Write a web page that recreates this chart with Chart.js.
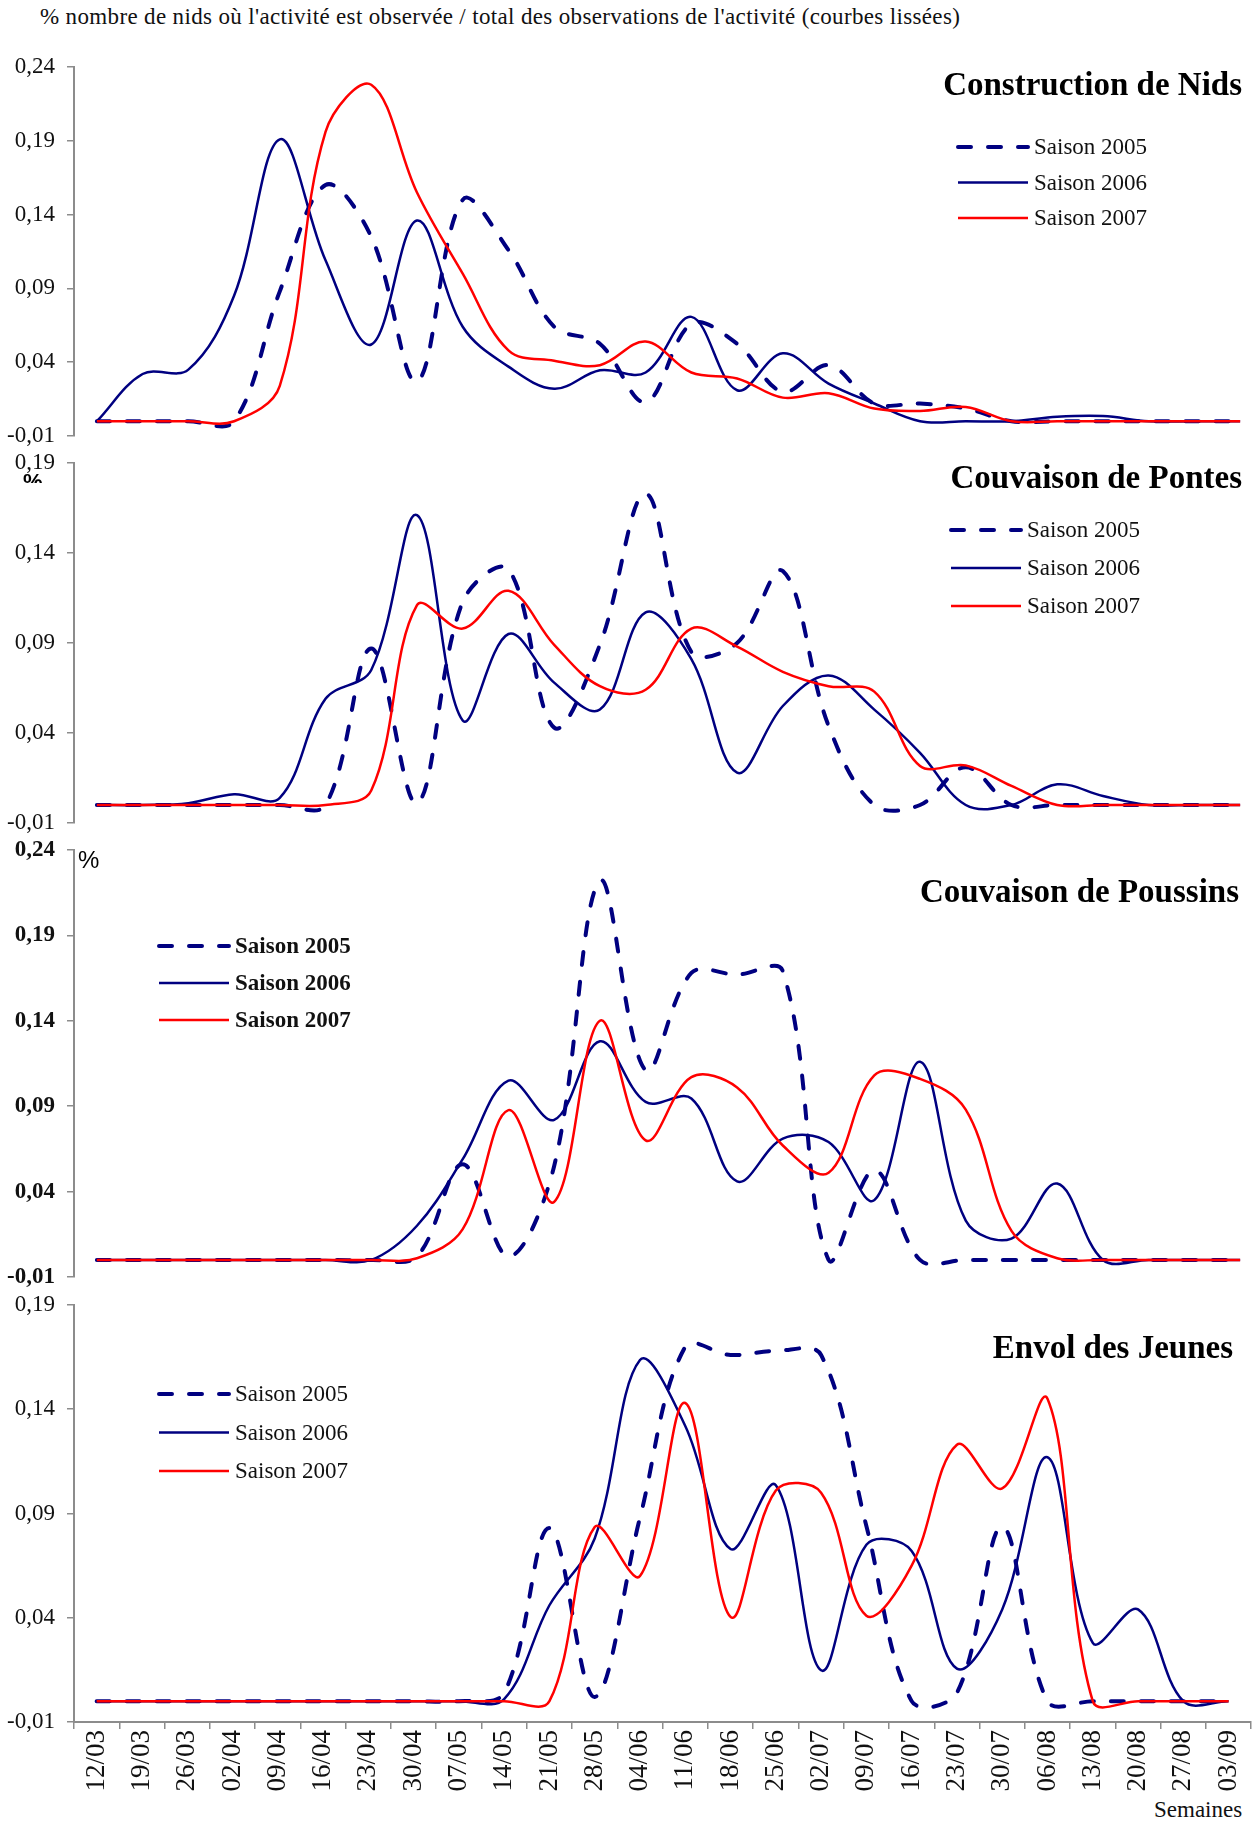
<!DOCTYPE html>
<html lang="fr">
<head>
<meta charset="utf-8">
<title>Activité observée dans les nids</title>
<script src="https://cdn.jsdelivr.net/npm/chart.js@4.4.1/dist/chart.umd.min.js"></script>
<style>
  html, body { margin: 0; padding: 0; background: #fff; overflow: hidden; }
  body { position: relative; width: 1257px; height: 1821px; font-family: "Liberation Serif", serif; color: #111; }
  canvas { position: absolute; left: 0; }
  #titre { position: absolute; left: 40px; top: 5px; font-size: 23px; line-height: 23px; letter-spacing: 0.35px; white-space: nowrap; }
  #semaines { position: absolute; left: 1154px; top: 1798px; font-size: 23px; line-height: 23px; white-space: nowrap; }
</style>
</head>
<body>
<div id="titre">% nombre de nids où l'activité est observée / total des observations de l'activité (courbes lissées)</div>
<div id="semaines">Semaines</div>
<script>
'use strict';

/*          DATA          */
// weeks on the x axis (one point per week)
const weeks = ['12/03', '19/03', '26/03', '02/04', '09/04', '16/04', '23/04', '30/04', '07/05',
  '14/05', '21/05', '28/05', '04/06', '11/06', '18/06', '25/06', '02/07', '09/07', '16/07',
  '23/07', '30/07', '06/08', '13/08', '20/08', '27/08', '03/09'];

const seasons = ['Saison 2005', 'Saison 2006', 'Saison 2007'];

// Construction de Nids
const nids2005 = [0, 0, 0, 0, 0.088, 0.160, 0.125, 0.027, 0.150, 0.116, 0.064, 0.0525, 0.013,
  0.066, 0.0525, 0.020, 0.038, 0.012, 0.012, 0.0086, 0, 0, 0, 0, 0, 0];
const nids2006 = [0, 0.032, 0.035, 0.085, 0.191, 0.109, 0.052, 0.136, 0.064, 0.037, 0.022, 0.0345, 0.033,
  0.0707, 0.021, 0.046, 0.0255, 0.012, 0, 0, 0, 0.003, 0.0035, 0, 0, 0];
const nids2007 = [0, 0, 0, 0, 0.024, 0.196, 0.228, 0.155, 0.100, 0.048, 0.041, 0.038, 0.054,
  0.033, 0.029, 0.016, 0.019, 0.0086, 0.007, 0.0097, 0, 0, 0, 0, 0, 0];

// Couvaison de Pontes
const pontes2005 = [0, 0, 0, 0, 0, 0, 0.087, 0.001, 0.113, 0.131, 0.043, 0.089, 0.173,
  0.085, 0.090, 0.130, 0.044, 0, 0, 0.021, 0, 0, 0, 0, 0, 0];
const pontes2006 = [0, 0, 0.001, 0.006, 0.004, 0.059, 0.075, 0.161, 0.047, 0.095, 0.068, 0.053, 0.107,
  0.081, 0.018, 0.055, 0.072, 0.053, 0.029, 0, 0, 0.0115, 0.005, 0, 0, 0];
const pontes2007 = [0, 0, 0, 0, 0, 0, 0.008, 0.111, 0.098, 0.119, 0.089, 0.066, 0.064,
  0.098, 0.088, 0.074, 0.066, 0.063, 0.0217, 0.022, 0.0106, 0, 0, 0, 0, 0];

// Couvaison de Poussins
const poussins2005 = [0, 0, 0, 0, 0, 0, 0, 0.002, 0.056, 0.002, 0.055, 0.222, 0.111,
  0.168, 0.167, 0.169, 0, 0.0525, 0, 0, 0, 0, 0, 0, 0, 0];
const poussins2006 = [0, 0, 0, 0, 0, 0, 0, 0.020, 0.059, 0.105, 0.082, 0.128, 0.0925,
  0.0945, 0.046, 0.071, 0.069, 0.035, 0.116, 0.023, 0.0125, 0.0447, 0, 0, 0, 0];
const poussins2007 = [0, 0, 0, 0, 0, 0, 0, 0.001, 0.018, 0.0877, 0.034, 0.140, 0.070,
  0.107, 0.101, 0.067, 0.051, 0.108, 0.106, 0.088, 0.017, 0.001, 0, 0, 0, 0];

// Envol des Jeunes
const envol2005 = [0, 0, 0, 0, 0, 0, 0, 0, 0, 0.004, 0.083, 0.002, 0.088,
  0.170, 0.166, 0.168, 0.166, 0.084, 0, 0.004, 0.0836, 0, 0, 0, 0, 0];
const envol2006 = [0, 0, 0, 0, 0, 0, 0, 0, 0, 0.001, 0.046, 0.078, 0.1636,
  0.132, 0.073, 0.1036, 0.0148, 0.075, 0.072, 0.0156, 0.044, 0.117, 0.028, 0.044, 0, 0];
const envol2007 = [0, 0, 0, 0, 0, 0, 0, 0, 0, 0, 0, 0.0835, 0.060,
  0.143, 0.0404, 0.101, 0.100, 0.041, 0.065, 0.123, 0.102, 0.145, 0, 0, 0, 0];

// y tick values (two different ranges)
const ticksHigh = [-0.01, 0.04, 0.09, 0.14, 0.19, 0.24];
const ticksLow = [-0.01, 0.04, 0.09, 0.14, 0.19];


/*          STYLES / LAYOUT          */
const navy = '#000080';
const red = '#ff0000';
const axisGrey = '#8c8c8c';
const serif = '"Liberation Serif", "Times New Roman", serif';
// room kept above / below each plot so the end tick labels fit
const edgePad = 28;

// line look for each season
const seasonStyles = [
  { borderColor: navy, borderWidth: 4, borderDash: [13, 17], borderCapStyle: 'round', order: 3 },
  { borderColor: navy, borderWidth: 2.5, order: 2 },
  { borderColor: red, borderWidth: 2.5, order: 1 }
];

// one entry per panel, positions in page pixels
const panels = [
  { id: 'nids', title: 'Construction de Nids', values: [nids2005, nids2006, nids2007], ticks: ticksHigh,
    top: 39, height: 425, width: 1263, titleX: 1242, titleY: 95,
    legendX: 956, legendY: 147, legendGap: 35.5, bold: false },
  { id: 'pontes', title: 'Couvaison de Pontes', values: [pontes2005, pontes2006, pontes2007], ticks: ticksLow,
    top: 435, height: 416, width: 1263, titleX: 1242, titleY: 488,
    legendX: 949, legendY: 530, legendGap: 38, bold: false,
    percent: { x: 23, y: 472, font: 'bold 22px "Liberation Sans", sans-serif', clipBottom: 483 } },
  { id: 'poussins', title: 'Couvaison de Poussins', values: [poussins2005, poussins2006, poussins2007], ticks: ticksHigh,
    top: 822, height: 483, width: 1263, titleX: 1239, titleY: 902,
    legendX: 157, legendY: 946, legendGap: 37, bold: true,
    percent: { x: 78, y: 849, font: '24px "Liberation Sans", sans-serif', clipBottom: 900 } },
  // the week labels eat ~10px on the right, so this canvas is a bit wider
  { id: 'envol', title: 'Envol des Jeunes', values: [envol2005, envol2006, envol2007], ticks: ticksLow,
    top: 1277, height: 544, width: 1262, titleX: 1233, titleY: 1358,
    legendX: 157, legendY: 1394, legendGap: 38.5, bold: false, showWeeks: true }
];


/*          PLUGIN: panel title, legend and % mark inside the plot          */
const panelDecor = {
  id: 'panelDecor',
  afterDraw(chart, args, opts) {
    const ctx = chart.ctx;
    const top = opts.top;
    ctx.save();
    // title, right aligned
    ctx.fillStyle = '#000';
    ctx.font = 'bold 33px ' + serif;
    ctx.textAlign = 'right';
    ctx.textBaseline = 'alphabetic';
    ctx.fillText(opts.title, opts.titleX, opts.titleY - top);

    // legend: line sample then label
    const lineLen = 72;
    chart.data.datasets.forEach((ds, i) => {
      const y = opts.legendY - top + i * opts.legendGap;
      ctx.beginPath();
      ctx.strokeStyle = ds.borderColor;
      ctx.lineWidth = ds.borderWidth;
      ctx.lineCap = ds.borderCapStyle || 'butt';
      ctx.setLineDash(ds.borderDash || []);
      ctx.moveTo(opts.legendX + 2, y);
      ctx.lineTo(opts.legendX + lineLen, y);
      ctx.stroke();
      ctx.setLineDash([]);
      ctx.fillStyle = '#111';
      ctx.font = (opts.bold ? 'bold ' : '') + '23px ' + serif;
      ctx.textAlign = 'left';
      ctx.textBaseline = 'middle';
      ctx.fillText(ds.label, opts.legendX + lineLen + 6, y + 1);
    });

    // the "%" unit near the axis (cut off like the original)
    if (opts.percent) {
      const p = opts.percent;
      ctx.beginPath();
      ctx.rect(0, 0, chart.width, p.clipBottom - top);
      ctx.clip();
      ctx.fillStyle = '#000';
      ctx.font = p.font;
      ctx.textAlign = 'left';
      ctx.textBaseline = 'top';
      ctx.fillText('%', p.x, p.y - top);
    }
    ctx.restore();
  }
};


/*          BUILD ONE CHART PER PANEL          */
function makePanel(p) {
  const canvas = document.createElement('canvas');
  canvas.id = p.id;
  canvas.width = p.width;
  canvas.height = p.height;
  canvas.style.top = p.top + 'px';
  canvas.style.width = p.width + 'px';
  canvas.style.height = p.height + 'px';
  document.body.appendChild(canvas);

  const datasets = p.values.map((vals, i) => Object.assign({
    label: seasons[i],
    data: vals,
    fill: false,
    tension: 0.36,
    pointRadius: 0,
    pointHoverRadius: 0
  }, seasonStyles[i]));

  const tickFont = { family: serif, size: 23, weight: p.bold ? 'bold' : 'normal' };

  const xScale = p.showWeeks ? {
    display: true,
    offset: true,
    afterFit: (s) => { s.height = 80; },
    grid: { display: true, offset: true, drawOnChartArea: false, drawTicks: true, tickLength: 7, color: axisGrey, lineWidth: 1.5 },
    border: { display: true, color: axisGrey, width: 2 },
    ticks: { autoSkip: false, minRotation: 90, maxRotation: 90, padding: 1, color: '#111',
      font: { family: serif, size: 27 } }
  } : { display: false, offset: true };

  return new Chart(canvas, {
    type: 'line',
    data: { labels: weeks, datasets: datasets },
    options: {
      responsive: false,
      animation: false,
      events: [],
      layout: { padding: { top: edgePad, bottom: p.showWeeks ? 19 : edgePad, left: 0, right: 0 } },
      scales: {
        x: xScale,
        y: {
          min: p.ticks[0],
          max: p.ticks[p.ticks.length - 1],
          afterBuildTicks: (s) => { s.ticks = p.ticks.map((v) => ({ value: v })); },
          afterFit: (s) => { s.width = 74; },
          grid: { drawOnChartArea: false, drawTicks: true, tickLength: 7, color: axisGrey, lineWidth: 1.5 },
          border: { display: true, color: axisGrey, width: 2 },
          ticks: {
            padding: 12,
            color: '#111',
            font: tickFont,
            callback: (v) => v.toFixed(2).replace('.', ',')
          }
        }
      },
      plugins: {
        legend: { display: false },
        tooltip: { enabled: false },
        panelDecor: {
          top: p.top, title: p.title, titleX: p.titleX, titleY: p.titleY,
          legendX: p.legendX, legendY: p.legendY, legendGap: p.legendGap,
          bold: p.bold, percent: p.percent
        }
      }
    },
    plugins: [panelDecor]
  });
}

panels.forEach(makePanel);
</script>
</body>
</html>
